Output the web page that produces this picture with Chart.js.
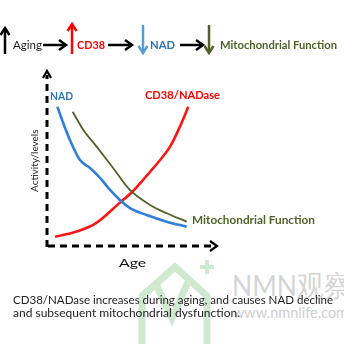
<!DOCTYPE html>
<html><head><meta charset="utf-8">
<script src="https://cdn.jsdelivr.net/npm/chart.js@4.4.1/dist/chart.umd.min.js"></script>
<style>
html,body{margin:0;padding:0;background:#fff;}
#wrap{position:relative;width:344px;height:344px;overflow:hidden;background:#fff;font-family:Lato,"Open Sans",sans-serif;}
#c{position:absolute;left:0;top:0;}
.t{position:absolute;white-space:nowrap;transform-origin:0 50%;line-height:14px;height:14px;}
.b{font-weight:bold;}
.wm{position:absolute;white-space:nowrap;color:#d4d4d4;transform-origin:0 50%;}
</style></head><body>
<div id="wrap">
<svg style="position:absolute;left:0;top:0" width="344" height="344">
  <g fill="none" stroke="#cfe8d0" stroke-width="7" stroke-linejoin="miter">
    <polyline points="142,350 142,296 175,267 207,296 207,350"/>
    <polyline points="155,282 172,318 188,282"/>
  </g>
  <g stroke="#cfe8d0" stroke-width="4"><line x1="207" y1="260" x2="207" y2="274"/><line x1="200" y1="267" x2="214" y2="267"/></g>
</svg>
<div class="wm" style="left:232px;top:270px;font-size:29px;line-height:30px;" data-w="118">NMN观察</div>
<div class="wm" style="left:233px;top:304px;font-size:15px;line-height:16px;color:#cfcfcf" data-w="115">www.nmnlife.com</div>
<canvas id="c" width="344" height="344"></canvas>
<div class="t" style="left:13px;top:38px;font-size:11px;color:#222" data-w="29">Aging</div>
<div class="t b" style="left:77px;top:38px;font-size:11px;color:#ff0000" data-w="28">CD38</div>
<div class="t b" style="left:150px;top:38px;font-size:11px;color:#2e75b6" data-w="25">NAD</div>
<div class="t b" style="left:220px;top:38px;font-size:11px;color:#4f6228" data-w="117">Mitochondrial Function</div>
<div class="t b" style="left:50px;top:89px;font-size:11px;color:#2e75b6" data-w="23">NAD</div>
<div class="t b" style="left:145px;top:88px;font-size:11px;color:#ff0000" data-w="75">CD38/NADase</div>
<div class="t b" style="left:192px;top:213px;font-size:11px;color:#4f6228" data-w="123">Mitochondrial Function</div>
<div class="t" style="left:119px;top:256px;font-size:11px;color:#111" data-w="27">Age</div>
<div class="t" style="left:4px;top:155px;font-size:10px;color:#222;transform-origin:50% 50%;width:60px;text-align:center;" id="ylab">Activity/levels</div>
<div class="t" style="left:13px;top:293px;font-size:11px;color:#222" data-w="320">CD38/NADase increases during aging, and causes NAD decline</div>
<div class="t" style="left:13px;top:306px;font-size:11px;color:#222" data-w="227">and subsequent mitochondrial dysfunction.</div>
</div>
<script>
// Data (x: age, y: activity/levels, both 0-100)
const nadX = [6.1, 9.6, 13.5, 19.4, 25.3, 31.2, 37.1, 42.9, 48.8, 58.6, 70.4, 82.2];
const nadY = [80, 70.5, 60.9, 49.4, 44.8, 39.1, 32.2, 26.4, 21.8, 17.8, 14.0, 11.1];
const mitoX = [15.1, 21.4, 29.2, 39.0, 48.8, 60.6, 70.4, 82.2];
const mitoY = [77.2, 66.7, 57.1, 44.7, 32.2, 23.6, 18.8, 14.0];
const cd38X = [4.7, 17.0, 28.6, 42.4, 50.2, 58.1, 66.5, 72.4, 78.2, 83.1];
const cd38Y = [5.3, 8.2, 13.0, 24.5, 31.2, 39.8, 49.4, 57.1, 68.6, 80.1];
const seriesNames = ["NAD", "Mitochondrial Function", "CD38/NADase"];

const pts = (xs, ys) => xs.map((x, i) => ({x, y: ys[i]}));

const decor = {
  id: 'decor',
  afterDraw(chart) {
    const ctx = chart.ctx, a = chart.chartArea;
    ctx.save();
    ctx.strokeStyle = '#000'; ctx.lineWidth = 3; ctx.setLineDash([7, 5]);
    ctx.beginPath(); ctx.moveTo(a.left, a.bottom + 1); ctx.lineTo(a.left, a.top + 3); ctx.stroke();
    ctx.beginPath(); ctx.moveTo(a.left + 1, a.bottom); ctx.lineTo(a.right - 2, a.bottom); ctx.stroke();
    ctx.setLineDash([]); ctx.lineWidth = 2.2; ctx.lineJoin = 'miter';
    ctx.beginPath(); ctx.moveTo(a.left - 4, a.top + 6); ctx.lineTo(a.left, a.top - 1); ctx.lineTo(a.left + 4, a.top + 6); ctx.stroke();
    ctx.beginPath(); ctx.moveTo(a.right - 7, a.bottom - 5); ctx.lineTo(a.right, a.bottom); ctx.lineTo(a.right - 7, a.bottom + 5); ctx.stroke();
    // header arrows
    function vArrow(x, y1, y2, col) {
      ctx.strokeStyle = col; ctx.lineWidth = 2.5;
      ctx.beginPath(); ctx.moveTo(x, y1); ctx.lineTo(x, y2); ctx.stroke();
      const d = y2 > y1 ? 1 : -1;
      ctx.beginPath(); ctx.moveTo(x - 4.5, y2 - d * 7); ctx.lineTo(x, y2); ctx.lineTo(x + 4.5, y2 - d * 7); ctx.stroke();
    }
    function hArrow(x1, x2, y) {
      ctx.strokeStyle = '#000'; ctx.lineWidth = 2.5;
      ctx.beginPath(); ctx.moveTo(x1, y); ctx.lineTo(x2 - 1, y); ctx.stroke();
      ctx.beginPath(); ctx.moveTo(x2 - 7, y - 5); ctx.lineTo(x2, y); ctx.lineTo(x2 - 7, y + 5); ctx.stroke();
    }
    vArrow(5, 54, 28, '#000');
    vArrow(72, 54, 24, '#ff0000');
    vArrow(143, 25, 53, '#5b9bd5');
    vArrow(209, 25, 53, '#4f6228');
    hArrow(43, 66, 45);
    hArrow(108, 132, 45);
    hArrow(180, 203, 45);
    ctx.restore();
  }
};

new Chart(document.getElementById('c'), {
  type: 'line',
  data: {
    datasets: [
      {label: seriesNames[0], data: pts(nadX, nadY), borderColor: '#2f7ed8', borderWidth: 2.6},
      {label: seriesNames[1], data: pts(mitoX, mitoY), borderColor: '#4f6228', borderWidth: 1.8},
      {label: seriesNames[2], data: pts(cd38X, cd38Y), borderColor: '#ff1414', borderWidth: 2.6}
    ]
  },
  options: {
    responsive: false, animation: false,
    layout: {padding: {left: 47, top: 72, right: 127, bottom: 98}},
    elements: {point: {radius: 0}, line: {cubicInterpolationMode: 'monotone', fill: false}},
    plugins: {legend: {display: false}, tooltip: {enabled: false}},
    scales: {
      x: {type: 'linear', min: 0, max: 100, display: false},
      y: {type: 'linear', min: 0, max: 100, display: false}
    }
  },
  plugins: [decor]
});

function fit() {
  document.querySelectorAll('[data-w]').forEach(el => {
    el.style.transform = '';
    const w = el.getBoundingClientRect().width;
    const t = parseFloat(el.dataset.w);
    el.style.transform = 'scaleX(' + (t / w) + ')';
  });
  const yl = document.getElementById('ylab');
  const w = yl.scrollWidth;
  yl.style.transform = 'rotate(-90deg)';
}
fit();
if (document.fonts && document.fonts.ready) document.fonts.ready.then(fit);
</script>
</body></html>
